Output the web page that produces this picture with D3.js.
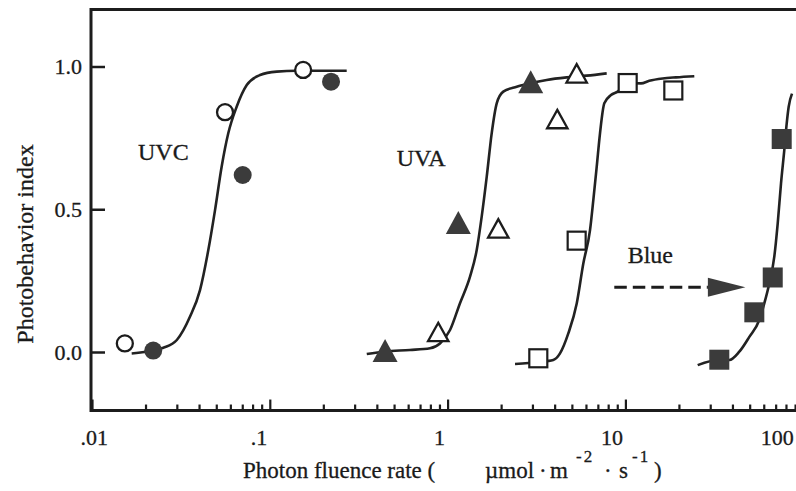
<!DOCTYPE html>
<html>
<head>
<meta charset="utf-8">
<script src="https://cdn.jsdelivr.net/npm/d3@7"></script>
<style>
  body { margin: 0; background: #fff; }
  svg { display: block; }
  text { font-family: "Liberation Serif", "Times New Roman", "DejaVu Serif", serif; fill: #1a1a1a;
         stroke: #1a1a1a; stroke-width: 0.3px; }
</style>
</head>
<body>
<svg id="chart" width="796" height="491"></svg>
<script>
// ---- measured responses: [fluence rate (µmol m-2 s-1), photobehavior index] ----
const uvcOpen = [[0.0153, 0.030], [0.056, 0.840], [0.154, 0.988]];
const uvcFilled = [[0.0221, 0.005], [0.0704, 0.620], [0.221, 0.947]];
const uvaFilled = [[0.445, 0.005], [1.149, 0.454], [2.934, 0.947]];
const uvaOpen = [[0.886, 0.070], [1.928, 0.433], [4.14, 0.816], [5.32, 0.976]];
const squaresOpen = [[3.237, -0.022], [5.32, 0.390], [10.30, 0.942], [18.6, 0.916]];
const blueFilled = [[33.74, -0.027], [53.1, 0.139], [67.4, 0.261], [75.7, 0.746]];

// ---- fitted response curves ----
const uvcCurve = [[0.01672, -0.005], [0.0221, 0.005], [0.0252, 0.015], [0.0300, 0.042], [0.0356, 0.124],
  [0.0405, 0.217], [0.0451, 0.357], [0.0492, 0.497], [0.0536, 0.649], [0.0584, 0.766],
  [0.0651, 0.859], [0.0742, 0.935], [0.0881, 0.970], [0.1094, 0.982], [0.1417, 0.985], [0.2707, 0.985]];
const uvaCurve = [[0.351, -0.007], [0.445, 0.002], [0.614, 0.007], [0.796, 0.013], [0.906, 0.030],
  [1.032, 0.077], [1.174, 0.171], [1.337, 0.264], [1.458, 0.357], [1.555, 0.474], [1.660, 0.614],
  [1.770, 0.766], [1.889, 0.871], [2.057, 0.912], [2.447, 0.929], [2.907, 0.941], [3.609, 0.953],
  [4.676, 0.962], [6.058, 0.968], [7.849, 0.976]];
const squareCurve = [[2.394, -0.042], [3.237, -0.035], [3.930, -0.028], [4.287, -0.005], [4.774, 0.065],
  [5.324, 0.170], [5.798, 0.310], [6.324, 0.427], [6.600, 0.532], [6.897, 0.649], [7.197, 0.766],
  [7.609, 0.871], [8.299, 0.900], [9.05, 0.912], [10.30, 0.942], [12.24, 0.941], [13.63, 0.950],
  [16.21, 0.958], [19.26, 0.962], [24.41, 0.966]];
const blueCurve = [[25.50, -0.046], [33.74, -0.027], [38.41, -0.028], [43.71, 0.001], [49.77, 0.053],
  [56.63, 0.112], [60.41, 0.170], [64.46, 0.240], [68.78, 0.334], [71.87, 0.450], [75.01, 0.590],
  [78.28, 0.707], [80.75, 0.800], [82.86, 0.859], [86.50, 0.905]];

// ---- axes ----
const xMajor = [0.01, 0.1, 1, 10, 100];
const xMajorLabels = [".01", ".1", "1", "10", "100"];
const xMinor = [0.02, 0.03, 0.04, 0.05, 0.06, 0.07, 0.08, 0.09,
  0.2, 0.3, 0.4, 0.5, 0.6, 0.7, 0.8, 0.9,
  2, 3, 4, 5, 6, 7, 8, 9,
  20, 30, 40, 50, 60, 70, 80, 90];
const yTicks = [0, 0.5, 1];
const yTickLabels = ["0.0", "0.5", "1.0"];
const yLimits = [-0.205, 1.2];

// ---- annotations ----
const seriesLabels = [
  { text: "UVC", x: 0.01815, y: 0.672 },
  { text: "UVA", x: 0.517, y: 0.651 },
  { text: "Blue", x: 10.3, y: 0.311 }
];
const blueArrow = { from: 8.66, to: 47.3, y: 0.227 };

(function draw() {
  const svg = d3.select("#chart");
  const W = 796;

  const x = d3.scaleLog().domain([0.01, 100]).range([92, 803.2]);
  const y = d3.scaleLinear().domain([0, 1]).range([352, 66.5]);

  const plotLeft = 91, plotTop = y(yLimits[1]), plotBottom = y(yLimits[0]);
  const ink = "#1c1c1c";
  const fillDark = "#3b3b3b";

  // curves (underneath the markers)
  const line = d3.line().x(d => x(d[0])).y(d => y(d[1])).curve(d3.curveMonotoneX);
  svg.append("g")
    .selectAll("path")
    .data([uvcCurve, uvaCurve, squareCurve, blueCurve])
    .join("path")
    .attr("d", line)
    .attr("fill", "none")
    .attr("stroke", "#222")
    .attr("stroke-width", 2.6)
    .attr("stroke-linejoin", "round");

  // markers
  const marks = svg.append("g");
  function circles(data, filled) {
    marks.append("g").selectAll("circle").data(data).join("circle")
      .attr("cx", d => x(d[0])).attr("cy", d => y(d[1]))
      .attr("r", filled ? 9 : 8)
      .attr("fill", filled ? fillDark : "#fff")
      .attr("stroke", filled ? "none" : ink)
      .attr("stroke-width", filled ? 0 : 2.3);
  }
  function triangles(data, filled) {
    const w = 25, h = 23;
    const sw = filled ? 0 : 2.3;
    const wi = w - 2 * sw, hi = h - 2 * sw;
    const path = `M0,${-hi / 2}L${wi / 2},${hi / 2}L${-wi / 2},${hi / 2}Z`;
    marks.append("g").selectAll("path").data(data).join("path")
      .attr("transform", d => `translate(${x(d[0])},${y(d[1])})`)
      .attr("d", path)
      .attr("fill", filled ? fillDark : "#fff")
      .attr("stroke", filled ? "none" : ink)
      .attr("stroke-width", sw);
  }
  function squares(data, filled) {
    const s = filled ? 20 : 18;
    marks.append("g").selectAll("rect").data(data).join("rect")
      .attr("x", d => x(d[0]) - s / 2).attr("y", d => y(d[1]) - s / 2)
      .attr("width", s).attr("height", s)
      .attr("fill", filled ? fillDark : "#fff")
      .attr("stroke", filled ? "none" : ink)
      .attr("stroke-width", filled ? 0 : 2.2);
  }
  circles(uvcOpen, false);
  circles(uvcFilled, true);
  triangles(uvaFilled, true);
  triangles(uvaOpen, false);
  squares(squaresOpen, false);
  squares(blueFilled, true);

  // frame: top rule, left axis, bottom axis
  svg.append("path")
    .attr("d", `M${W},${plotTop}H${plotLeft}V${plotBottom}H${W}`)
    .attr("fill", "none").attr("stroke", ink).attr("stroke-width", 3);

  // x axis ticks (pointing into the plot)
  const xAxisMajor = d3.axisBottom(x).tickValues(xMajor).tickSize(-11).tickPadding(19)
    .tickFormat((d, i) => xMajorLabels[i]);
  const gx = svg.append("g").attr("transform", `translate(0,${plotBottom})`).call(xAxisMajor);
  gx.select(".domain").remove();
  gx.selectAll(".tick line").attr("stroke", ink).attr("stroke-width", 2.2);
  gx.selectAll(".tick text")
    .attr("font-size", 22)
    .attr("text-anchor", (d, i) => i === 0 ? "start" : "end")
    .attr("dx", (d, i) => i === 0 ? -12 : (i === xMajor.length - 1 ? -10 : -3));

  const xAxisMinor = d3.axisBottom(x).tickValues(xMinor).tickSize(-6).tickFormat("");
  const gxm = svg.append("g").attr("transform", `translate(0,${plotBottom})`).call(xAxisMinor);
  gxm.select(".domain").remove();
  gxm.selectAll(".tick line").attr("stroke", ink).attr("stroke-width", 2.2);

  // y axis ticks
  const yAxis = d3.axisLeft(y).tickValues(yTicks).tickSize(-14).tickPadding(9)
    .tickFormat((d, i) => yTickLabels[i]);
  const gy = svg.append("g").attr("transform", `translate(${plotLeft},0)`).call(yAxis);
  gy.select(".domain").remove();
  gy.selectAll(".tick line").attr("stroke", ink).attr("stroke-width", 2.5);
  gy.selectAll(".tick text").attr("font-size", 22);

  // series labels
  svg.append("g").selectAll("text").data(seriesLabels).join("text")
    .attr("x", d => x(d.x)).attr("y", d => y(d.y))
    .attr("font-size", 24)
    .text(d => d.text);

  // dashed arrow pointing at the blue-light threshold
  const headLen = 37.5, headHalf = 9.5;
  const ay = y(blueArrow.y);
  const tipX = x(blueArrow.to);
  svg.append("line")
    .attr("x1", x(blueArrow.from)).attr("x2", tipX - headLen)
    .attr("y1", ay).attr("y2", ay)
    .attr("stroke", ink).attr("stroke-width", 3)
    .attr("stroke-dasharray", "12.5,6");
  svg.append("path")
    .attr("d", `M${tipX},${ay}L${tipX - headLen},${ay - headHalf}L${tipX - headLen},${ay + headHalf}Z`)
    .attr("fill", fillDark);

  // axis titles
  svg.append("text")
    .attr("transform", "translate(33,244) rotate(-90)")
    .attr("text-anchor", "middle")
    .attr("font-size", 24)
    .text("Photobehavior index");

  const xt = svg.append("text").attr("y", 478).attr("font-size", 23);
  xt.append("tspan").attr("x", 243).text("Photon fluence rate (");
  xt.append("tspan").attr("x", 485).text("µmol");
  xt.append("tspan").attr("x", 539).text("·");
  xt.append("tspan").attr("x", 550).text("m");
  xt.append("tspan").attr("x", 576).attr("y", 462).attr("font-size", 17).attr("letter-spacing", 2).text("-2");
  xt.append("tspan").attr("x", 604).attr("y", 478).attr("letter-spacing", 0).text("·");
  xt.append("tspan").attr("x", 619).text("s");
  xt.append("tspan").attr("x", 632).attr("y", 462).attr("font-size", 17).attr("letter-spacing", 2).text("-1");
  xt.append("tspan").attr("x", 654).attr("y", 478).attr("letter-spacing", 0).text(")");
})();
</script>
</body>
</html>
